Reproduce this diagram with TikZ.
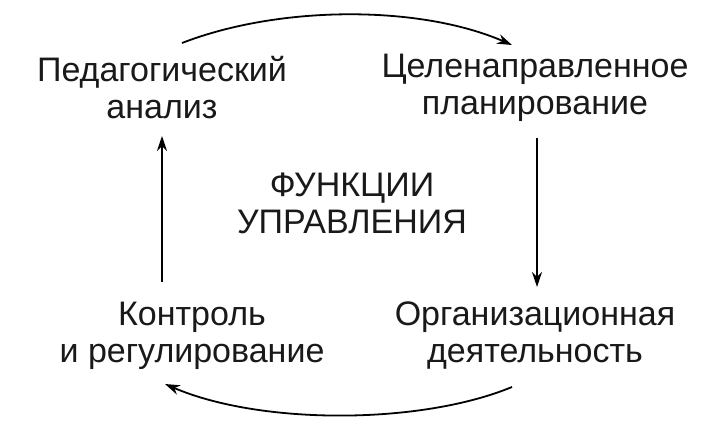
\documentclass[tikz,border=0pt]{standalone}
\usepackage{fontspec}
\setmainfont{Liberation Sans}
\usetikzlibrary{arrows.meta}
\begin{document}
\begin{tikzpicture}[x=1pt,y=-1pt,
  lbl/.style={align=center,font=\fontsize{34}{37}\selectfont,inner sep=0pt,text=black!90},
  arr/.style={line width=1.8pt,-{Stealth[length=15pt,width=10pt]}}]
\useasboundingbox (0,0) rectangle (726,428);
\fill[white] (0,0) rectangle (726,428);
\node[lbl] (pa) at (162,88) {Педагогический\\анализ};
\node[lbl] (cp) at (535,88) {Целенаправленное\\планирование};
\node[lbl] (fu) at (352,203) {ФУНКЦИИ\\УПРАВЛЕНИЯ};
\node[lbl] (kr) at (192,336) {Контроль\\и регулирование};
\node[lbl] (od) at (535,336) {Организационная\\деятельность};
\coordinate (a1) at (182,43);
\coordinate (a2) at (512,45);
\coordinate (b1) at (512,387);
\coordinate (b2) at (165,384);
\coordinate (r1) at (537,138);
\coordinate (r2) at (537,287);
\coordinate (l1) at (162,282);
\coordinate (l2) at (162,136);
\draw[arr] (a1) .. controls (280,5) and (420,5) .. (a2);
\draw[arr] (b1) .. controls (420,425) and (260,425) .. (b2);
\draw[arr] (r1) -- (r2);
\draw[arr] (l1) -- (l2);
\end{tikzpicture}
\end{document}
